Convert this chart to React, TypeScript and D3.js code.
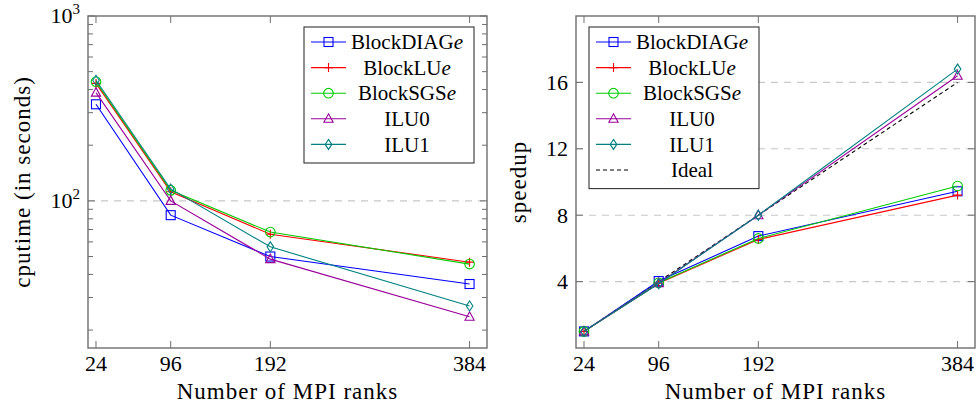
import * as d3 from "d3";

// MPI ranks on the x axis
const ranks = [24, 96, 192, 384];
const xTicks = [24, 96, 192, 384];

// cputime in seconds (left plot, log scale)
const cputimeDiag = [333, 83.7, 50, 35.5];
const cputimeLU = [432, 112, 66, 46.6];
const cputimeSGS = [441, 114, 67.8, 45.5];
const cputimeILU0 = [385, 100, 48.4, 23.6];
const cputimeILU1 = [449, 116, 56.4, 27];

// speedup (right plot)
const speedupDiag = [1, 4.03, 6.74, 9.44];
const speedupLU = [1, 3.9, 6.54, 9.21];
const speedupSGS = [1, 3.93, 6.6, 9.76];
const speedupILU0 = [1, 3.9, 8.0, 16.4];
const speedupILU1 = [1, 3.87, 8.0, 16.8];
const speedupIdeal = [1, 4, 8, 16];
const speedupTicks = [4, 8, 12, 16];

const cputimeMajor = [100, 1000];
const cputimeMinor = [20, 30, 40, 50, 60, 70, 80, 90, 200, 300, 400, 500, 600, 700, 800, 900];

const methods = [
  { name: "BlockDIAG", italic: "e", color: "#0000ff", mark: "square" },
  { name: "BlockLU", italic: "e", color: "#ff0000", mark: "plus" },
  { name: "BlockSGS", italic: "e", color: "#00cc00", mark: "circle" },
  { name: "ILU0", italic: "", color: "#990099", mark: "triangle" },
  { name: "ILU1", italic: "", color: "#008080", mark: "diamond" },
];

const FONT = "Liberation Serif";
const tickFont = { fontFamily: FONT, fontSize: 22 };
const labelFont = { fontFamily: FONT, fontSize: 23, letterSpacing: 1 };
const legendFont = { fontFamily: FONT, fontSize: 21 };
const AXIS = "#6e6e6e";

function Marker({ x, y, kind, color }: { x: number; y: number; kind: string; color: string }) {
  const s = { fill: "none", stroke: color, strokeWidth: 1.1 };
  if (kind === "square") return <rect x={x - 4.5} y={y - 4.5} width={9} height={9} {...s} />;
  if (kind === "circle") return <circle cx={x} cy={y} r={4.8} {...s} />;
  if (kind === "plus")
    return <path d={`M${x - 4.5},${y}H${x + 4.5}M${x},${y - 4.5}V${y + 4.5}`} {...s} />;
  if (kind === "triangle")
    return <path d={`M${x},${y - 5}L${x + 4.6},${y + 3.5}L${x - 4.6},${y + 3.5}Z`} {...s} />;
  if (kind === "diamond")
    return <path d={`M${x},${y - 5}L${x + 3.3},${y}L${x},${y + 5}L${x - 3.3},${y}Z`} {...s} />;
  return null;
}

type Series = { values: number[]; color: string; mark: string; dashed?: boolean };

function Legend({ x, y, rows }: { x: number; y: number; rows: { name: string; italic: string; color: string; mark: string; dashed?: boolean }[] }) {
  const rowH = 25.6;
  const h = rows.length * rowH + 8;
  return (
    <g>
      <rect x={x} y={y} width={170} height={h} fill="white" stroke="#333" strokeWidth={1.1} />
      {rows.map((r, i) => {
        const cy = y + 15 + i * rowH;
        return (
          <g key={i}>
            <line x1={x + 7} x2={x + 42} y1={cy} y2={cy} stroke={r.color} strokeWidth={1.1}
              strokeDasharray={r.dashed ? "4,3" : undefined} />
            {r.mark && <Marker x={x + 24.5} y={cy} kind={r.mark} color={r.color} />}
            <text x={x + 103} y={cy} dy="0.34em" textAnchor="middle" style={legendFont}>
              {r.name}
              {r.italic && <tspan style={{ fontStyle: "italic" }}>{r.italic}</tspan>}
            </text>
          </g>
        );
      })}
    </g>
  );
}

function Panel({ left, yScale, series, yMajor, yMinor, yLabel, log, legendX, legendRows, yLabelX }: any) {
  const top = 16, bottom = 348, right = left + 399;
  const x = d3.scaleLinear().domain([16.3, 400.8]).range([left, right]);
  const line = d3.line<[number, number]>().x(d => x(d[0])).y(d => yScale(d[1]));
  return (
    <g>
      {/* horizontal dashed grid */}
      {yMajor.filter((v: number) => Math.abs(yScale(v) - top) > 1).map((v: number) => (
        <line key={"g" + v} x1={left} x2={right} y1={yScale(v)} y2={yScale(v)} stroke="#c8c8c8"
          strokeWidth={1.1} strokeDasharray="7,6" />
      ))}
      {/* ticks */}
      {yMajor.map((v: number) => (
        <g key={"t" + v}>
          <line x1={left} x2={left + 7} y1={yScale(v)} y2={yScale(v)} stroke={AXIS} strokeWidth={1} />
          <line x1={right} x2={right - 7} y1={yScale(v)} y2={yScale(v)} stroke={AXIS} strokeWidth={1} />
        </g>
      ))}
      {yMinor.map((v: number) => (
        <g key={"m" + v}>
          <line x1={left} x2={left + 5} y1={yScale(v)} y2={yScale(v)} stroke={AXIS} strokeWidth={1} />
          <line x1={right} x2={right - 5} y1={yScale(v)} y2={yScale(v)} stroke={AXIS} strokeWidth={1} />
        </g>
      ))}
      {xTicks.map(v => (
        <g key={"x" + v}>
          <line x1={x(v)} x2={x(v)} y1={bottom} y2={bottom - 7} stroke={AXIS} strokeWidth={1} />
          <line x1={x(v)} x2={x(v)} y1={top} y2={top + 7} stroke={AXIS} strokeWidth={1} />
          <text x={x(v)} y={371} textAnchor="middle" style={tickFont}>{v}</text>
        </g>
      ))}
      {/* y tick labels */}
      {yMajor.map((v: number) => log ? (
        <text key={"l" + v} x={left - 8} y={yScale(v)} dy="0.34em" textAnchor="end" style={tickFont}>
          10<tspan dy={-9} style={{ fontSize: 15 }}>{Math.round(Math.log10(v))}</tspan>
        </text>
      ) : (
        <text key={"l" + v} x={left - 8} y={yScale(v)} dy="0.34em" textAnchor="end" style={tickFont}>{v}</text>
      ))}
      {/* series */}
      {series.map((s: Series, i: number) => {
        const pts = ranks.map((r, j) => [r, s.values[j]] as [number, number]);
        return (
          <g key={"s" + i}>
            <path d={line(pts) || ""} fill="none" stroke={s.color} strokeWidth={1.1}
              strokeDasharray={s.dashed ? "4,3" : undefined} />
            {s.mark && pts.map((p, j) => (
              <Marker key={j} x={x(p[0])} y={yScale(p[1])} kind={s.mark} color={s.color} />
            ))}
          </g>
        );
      })}
      {/* frame */}
      <rect x={left} y={top} width={right - left} height={bottom - top} fill="none" stroke={AXIS} strokeWidth={1.4} />
      <Legend x={legendX} y={27} rows={legendRows} />
      <text x={(left + right) / 2} y={399} textAnchor="middle" style={labelFont}>Number of MPI ranks</text>
      <text transform={`translate(${yLabelX},${(top + bottom) / 2}) rotate(-90)`} textAnchor="middle"
        style={labelFont}>{yLabel}</text>
    </g>
  );
}

export default function App() {
  const yLog = d3.scaleLog().domain([16, 1000]).range([348, 16]);
  const yLin = d3.scaleLinear().domain([0, 20]).range([348, 16]);
  const cpu = [cputimeDiag, cputimeLU, cputimeSGS, cputimeILU0, cputimeILU1];
  const spd = [speedupDiag, speedupLU, speedupSGS, speedupILU0, speedupILU1];
  const leftSeries = methods.map((m, i) => ({ values: cpu[i], color: m.color, mark: m.mark }));
  const rightSeries = [
    ...methods.map((m, i) => ({ values: spd[i], color: m.color, mark: m.mark })),
    { values: speedupIdeal, color: "#000", mark: "", dashed: true },
  ];
  const rightRows = [...methods, { name: "Ideal", italic: "", color: "#000", mark: "", dashed: true }];
  // draw ideal line beneath the solver curves
  const rightOrdered = [rightSeries[5], ...rightSeries.slice(0, 5)];
  return (
    <svg width={979} height={407} style={{ position: "absolute", left: 0, top: 0, background: "white" }}>
      <Panel left={88} yScale={yLog} series={leftSeries} yMajor={cputimeMajor} yMinor={cputimeMinor}
        yLabel="cputime (in seconds)" log legendX={304} legendRows={methods} yLabelX={30} />
      <Panel left={576} yScale={yLin} series={rightOrdered} yMajor={speedupTicks} yMinor={[]}
        yLabel="speedup" log={false} legendX={589} legendRows={rightRows} yLabelX={526} />
    </svg>
  );
}
